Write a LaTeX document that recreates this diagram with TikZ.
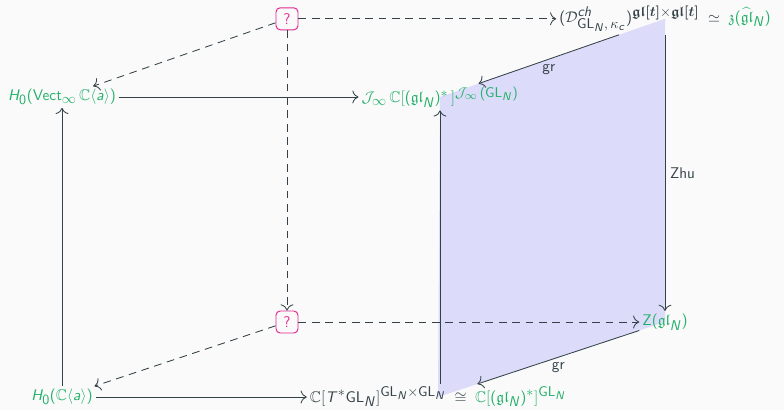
\documentclass[tikz,border=0pt]{standalone}
\usepackage{amsmath, amssymb}
\usepackage{tikz}
\usetikzlibrary{arrows.meta, positioning, backgrounds}
% sans letters in math
\DeclareSymbolFont{sfit}{OT1}{cmss}{m}{sl}
\DeclareSymbolFont{sfup}{OT1}{cmss}{m}{n}
\DeclareMathAlphabet{\mathsfup}{OT1}{cmss}{m}{n}
\DeclareMathSymbol{H}{\mathalpha}{sfit}{`H}
\DeclareMathSymbol{N}{\mathalpha}{sfit}{`N}
\DeclareMathSymbol{T}{\mathalpha}{sfit}{`T}
\DeclareMathSymbol{Z}{\mathalpha}{sfup}{`Z}
\DeclareMathSymbol{a}{\mathalpha}{sfit}{`a}
\DeclareMathSymbol{c}{\mathalpha}{sfit}{`c}
\DeclareMathSymbol{h}{\mathalpha}{sfit}{`h}
\DeclareMathSymbol{0}{\mathalpha}{sfup}{`0}
\DeclareMathSymbol{(}{\mathopen}{sfup}{`(}
\DeclareMathSymbol{)}{\mathclose}{sfup}{`)}
\DeclareMathSizes{11}{11}{10}{8}
\definecolor{figgreen}{RGB}{35,176,104}
\definecolor{figpink}{RGB}{228,40,145}
\definecolor{figgray}{RGB}{52,66,72}
\definecolor{figlav}{RGB}{220,220,250}
\definecolor{figbg}{RGB}{250,250,250}
\newcommand{\glt}{\boldsymbol{\mathfrak{gl}[t]}}
\tikzset{
  arr/.style={-{To[scale=1.5]}, draw=figgray, semithick},
  darr/.style={arr, dash pattern=on 5.5pt off 4pt},
  qbox/.style={draw=figpink, text=figpink, rounded corners=3pt,
               minimum size=0.55cm, inner sep=0pt, line width=0.7pt},
  gtxt/.style={text=figgreen, inner sep=2pt},
  ktxt/.style={text=figgray, inner sep=2pt},
  lbl/.style={text=figgray},
}

\begin{document}
\begin{tikzpicture}[font=\fontsize{11}{13}\selectfont\sffamily]
  \useasboundingbox (0,0) rectangle (19.6,-10.25);

  \node[qbox] (q1) at (7.175,-0.47) {?};
  \node[qbox] (q2) at (7.175,-8.05) {?};
  \node[ktxt] (tr) at (16.625,-0.47)
    {$(\mathcal{D}^{ch}_{\mathsfup{GL}_N,\,\kappa_c})^{\glt\times\glt}
      \;\simeq\; {\color{figgreen}\mathfrak{z}(\widehat{\mathfrak{gl}}_N)}$};
  \node[gtxt] (Hv) at (1.55,-2.425) {$H_0(\mathsfup{Vect}_\infty\,\mathbb{C}\langle a\rangle)$};
  \node[gtxt] (J)  at (11.0,-2.425)
    {$\mathcal{J}_\infty\,\mathbb{C}[(\mathfrak{gl}_N)^*\,]^{\mathcal{J}_\infty\,(\mathsfup{GL}_N)}$};
  \node[gtxt] (Z)  at (16.625,-8.05) {$Z(\mathfrak{gl}_N)$};
  \node[gtxt] (Ha) at (1.55,-9.925) {$H_0(\mathbb{C}\langle a\rangle)$};
  \node[ktxt] (Cb) at (10.95,-9.925)
    {$\mathbb{C}[T^*\mathsfup{GL}_N]^{\mathsfup{GL}_N\times\mathsfup{GL}_N}
      \;\cong\; {\color{figgreen}\mathbb{C}[(\mathfrak{gl}_N)^*]^{\mathsfup{GL}_N}}$};

  % shaded face
  \begin{scope}[on background layer]
    \fill[figbg] (0,0) rectangle (19.6,-10.25);
    \fill[figlav] (J.center) -- (tr.center) -- (Z.center) -- (Cb.center) -- cycle;
  \end{scope}

  \draw[arr] (Hv) -- (J);
  \draw[arr] (Ha) -- (Cb);
  \draw[arr] (Ha) -- (Hv);
  \draw[arr] (Cb.north -| J) -- (J);
  \draw[arr] (tr) -- node[lbl, right] {Zhu} (Z);
  \draw[arr] (tr) -- node[lbl, below] {gr} (J);
  \draw[arr] (Z) -- node[lbl, below] {gr} (Cb);

  \draw[darr] (q1) -- (Hv);
  \draw[darr] (q1) -- (tr);
  \draw[darr] (q1) -- (q2);
  \draw[darr] (q2) -- (Ha);
  \draw[darr] (q2) -- (Z);
\end{tikzpicture}
\end{document}
